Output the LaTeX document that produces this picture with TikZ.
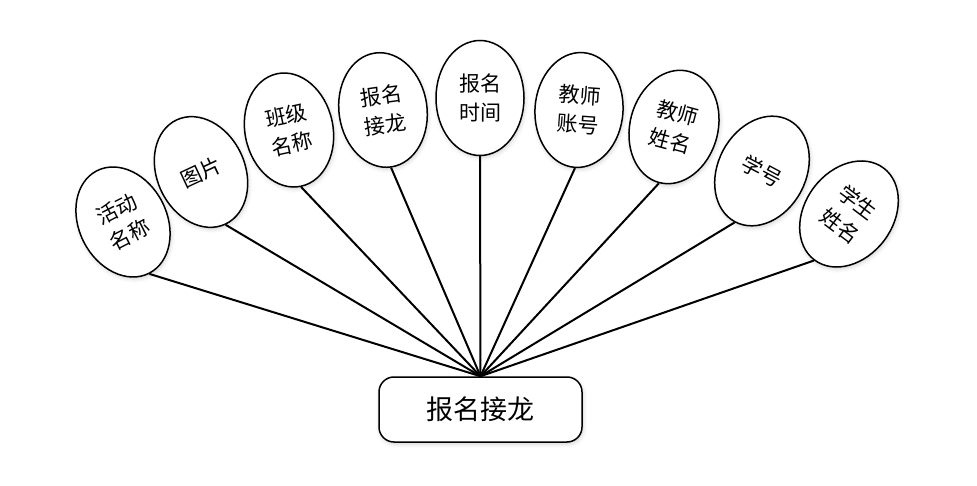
\documentclass[tikz,border=0pt]{standalone}
\usepackage{fontspec}
\setmainfont{Noto Sans CJK SC}
\usetikzlibrary{shapes.geometric,shadows.blur}
\begin{document}
\begin{tikzpicture}[x=1pt,y=1pt,
  attr/.style={ellipse, draw=black, line width=1.5pt, fill=white,
    minimum width=88pt, minimum height=115pt, inner sep=0pt,
    align=center, font=\fontsize{21}{29}\selectfont,
    blur shadow={shadow xshift=1pt, shadow yshift=-2pt, shadow blur radius=4pt, shadow opacity=18}},
  entity/.style={rectangle, rounded corners=15pt, draw=black, line width=1.5pt, fill=white,
    minimum width=203pt, minimum height=65pt, inner sep=0pt,
    font=\fontsize{27}{32}\selectfont,
    blur shadow={shadow xshift=1pt, shadow yshift=-2pt, shadow blur radius=4pt, shadow opacity=18}},
  link/.style={line width=2pt, draw=black}]
\useasboundingbox (0,0) rectangle (977,485);
\node[entity] (box) at (480.5,75.5) {报名接龙};
\coordinate (hub) at (box.north);
\node[attr, rotate=27]  (e1) at (123,263) {活动\\名称};
\node[attr, rotate=25]  (e2) at (201,313) {图片};
\node[attr, rotate=12]  (e3) at (289,355) {班级\\名称};
\node[attr, rotate=8]   (e4) at (383,375) {报名\\接龙};
\node[attr]             (e5) at (480,387) {报名\\时间};
\node[attr, rotate=-4]  (e6) at (579,375) {教师\\账号};
\node[attr, rotate=-15] (e7) at (674,358) {教师\\姓名};
\node[attr, rotate=-28] (e8) at (762,314) {学号};
\node[attr, rotate=-37] (e9) at (849,271) {学生\\姓名};
\foreach \i in {1,...,9}{\draw[link] (e\i.south) -- (hub);}
\end{tikzpicture}
\end{document}
